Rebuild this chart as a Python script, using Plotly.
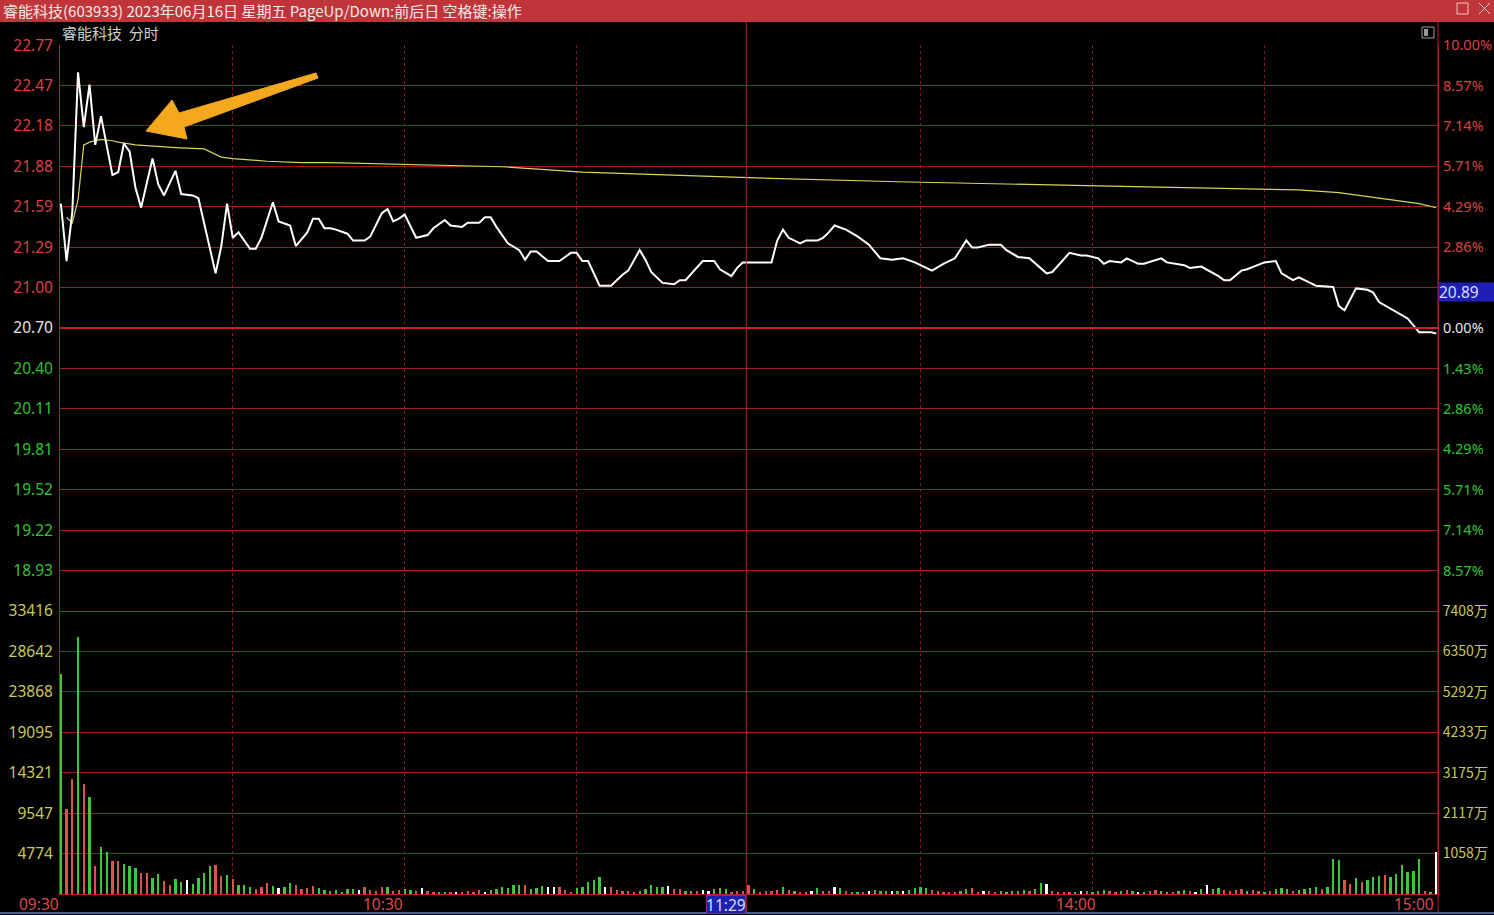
import plotly.graph_objects as go

# ---------------- data ----------------
PREV_CLOSE = 20.70
LIMIT_PCT = 0.10
VOL_MAX = 33416

PRICE_MIN = [0, 1, 2, 3, 4, 5, 6, 7, 9, 10,
             11, 12, 13, 14, 16, 17, 18, 20, 21, 23,
             24, 27, 28, 29, 30, 31, 33, 34, 35, 37,
             38, 40, 41, 43, 44, 45, 46, 47, 48, 50,
             51, 53, 54, 56, 57, 58, 59, 60, 62, 63,
             64, 65, 67, 68, 70, 71, 73, 74, 75, 76,
             78, 80, 81, 82, 83, 85, 87, 89, 90, 91,
             92, 94, 96, 98, 99, 101, 102, 103, 105, 107,
             108, 109, 112, 114, 115, 117, 118, 119, 120, 122,
             124, 125, 126, 127, 129, 130, 132, 133, 134, 135,
             137, 139, 140, 141, 143, 145, 147, 149, 152, 154,
             156, 158, 159, 160, 162, 164, 165, 167, 169, 172,
             173, 176, 178, 179, 181, 182, 183, 185, 186, 188,
             189, 192, 193, 196, 197, 199, 202, 203, 204, 206,
             207, 210, 212, 213, 215, 216, 218, 219, 222, 223,
             224, 226, 228, 229, 230, 232, 233, 235, 237, 239,
             240]
PRICE = [21.61, 21.19, 21.55, 22.57, 22.17, 22.48, 22.04, 22.25, 21.82, 21.84,
         22.05, 21.99, 21.73, 21.58, 21.94, 21.75, 21.67, 21.85, 21.68, 21.67,
         21.65, 21.10, 21.30, 21.61, 21.36, 21.40, 21.28, 21.28, 21.36, 21.62,
         21.48, 21.45, 21.30, 21.40, 21.50, 21.50, 21.43, 21.43, 21.42, 21.39,
         21.34, 21.34, 21.37, 21.54, 21.57, 21.48, 21.50, 21.53, 21.36, 21.37,
         21.38, 21.43, 21.49, 21.45, 21.44, 21.47, 21.47, 21.51, 21.51, 21.44,
         21.32, 21.27, 21.20, 21.26, 21.26, 21.19, 21.19, 21.25, 21.25, 21.19,
         21.19, 21.01, 21.01, 21.09, 21.12, 21.27, 21.20, 21.11, 21.03, 21.02,
         21.05, 21.05, 21.19, 21.19, 21.13, 21.08, 21.14, 21.18, 21.18, 21.18,
         21.18, 21.34, 21.42, 21.36, 21.32, 21.34, 21.34, 21.36, 21.40, 21.45,
         21.42, 21.37, 21.34, 21.31, 21.21, 21.20, 21.21, 21.18, 21.12, 21.17,
         21.21, 21.34, 21.29, 21.29, 21.31, 21.31, 21.27, 21.22, 21.21, 21.10,
         21.11, 21.25, 21.23, 21.23, 21.21, 21.17, 21.19, 21.18, 21.21, 21.17,
         21.17, 21.21, 21.18, 21.16, 21.14, 21.15, 21.08, 21.05, 21.05, 21.12,
         21.13, 21.18, 21.19, 21.10, 21.05, 21.07, 21.03, 21.01, 21.00, 20.86,
         20.83, 20.99, 20.98, 20.96, 20.89, 20.84, 20.82, 20.77, 20.67, 20.67,
         20.66]

AVG_MIN = [1, 2, 3, 4, 5, 7, 9, 10, 13, 16,
           20, 25, 26, 28, 30, 36, 42, 47, 77, 91,
           120, 146, 181, 216, 223, 230, 237, 240]
AVG = [21.51, 21.47, 21.64, 22.04, 22.06, 22.08, 22.07, 22.06, 22.04, 22.03,
       22.02, 22.01, 21.99, 21.95, 21.94, 21.92, 21.91, 21.91, 21.88, 21.84,
       21.80, 21.77, 21.74, 21.71, 21.69, 21.65, 21.61, 21.58]

VOLUME = [25980, 10000, 13540, 30380, 12990, 11490, 3300, 5590, 5000, 3930,
          3930, 3540, 3300, 3030, 2440, 2440, 1850, 2360, 1570, 1060,
          1730, 1450, 1650, 1140, 1850, 2520, 3340, 3460, 2120, 2240,
          1730, 1060, 1060, 790, 550, 860, 1260, 940, 670, 860,
          1340, 1060, 550, 670, 940, 670, 470, 350, 470, 270,
          630, 550, 470, 860, 470, 350, 790, 790, 390, 470,
          550, 470, 354, 668, 354, 197, 197, 275, 197, 275,
          275, 393, 197, 472, 275, 472, 550, 786, 668, 1061,
          1061, 1061, 550, 668, 943, 786, 865, 786, 472, 275,
          668, 865, 1454, 1651, 2044, 786, 786, 472, 393, 393,
          275, 393, 550, 1061, 786, 865, 943, 550, 550, 393,
          393, 393, 472, 393, 550, 668, 550, 275, 393, 393,
          1061, 550, 275, 393, 393, 472, 786, 472, 393, 275,
          275, 393, 668, 393, 393, 865, 668, 393, 275, 275,
          275, 393, 472, 393, 393, 393, 393, 393, 472, 668,
          786, 668, 472, 393, 275, 275, 275, 393, 550, 668,
          275, 393, 393, 275, 393, 275, 393, 393, 472, 393,
          550, 1336, 1179, 393, 275, 275, 197, 275, 393, 393,
          275, 393, 472, 393, 275, 393, 472, 393, 275, 275,
          393, 472, 393, 275, 275, 393, 472, 393, 275, 550,
          1100, 550, 668, 472, 393, 472, 550, 393, 472, 393,
          275, 393, 550, 668, 550, 393, 472, 550, 668, 786,
          550, 786, 4130, 4010, 1650, 1180, 1890, 1420, 1650, 2000,
          2120, 2240, 2000, 2360, 3420, 2630, 2710, 4090, 300, 200,
          4920]
# r = up minute, g = down minute, w = unchanged
VOL_SIDE = ("grrgrgrggr" "rgggrrggrr" "ggwggggrrg" "rgggrrrgwg" "grrrrggggg"
            "ggwrrrrgrr" "ggrwrrggrw" "rrrrwggggg" "grgggwwrrr" "gggggwrrrr"
            "rgggggwrrg" "grwwgggrrr" "rgrrrrgrgr" "rwgrrwgrgg" "rwgggwgwgg"
            "ggrrrrrggr" "rwrrgggggr" "ggwrrrrgwr" "gggrrgrgwg" "rrggrggrwg"
            "wggrrrrgrr" "grgggrgggg" "rgggrrgrgg" "grggggggrg" "w")

PRICE_LABELS = ["22.77", "22.47", "22.18", "21.88", "21.59", "21.29", "21.00",
                "20.70", "20.40", "20.11", "19.81", "19.52", "19.22", "18.93"]
PCT_LABELS = ["10.00%", "8.57%", "7.14%", "5.71%", "4.29%", "2.86%", "1.43%",
              "0.00%", "1.43%", "2.86%", "4.29%", "5.71%", "7.14%", "8.57%"]
VOL_LABELS = ["33416", "28642", "23868", "19095", "14321", "9547", "4774"]
AMOUNT_LABELS = ["7408万", "6350万", "5292万", "4233万", "3175万", "2117万", "1058万"]
TIME_LABELS = ["09:30", "10:30", "14:00", "15:00"]
TIME_POS = [0, 60, 180, 240]
GRID_MIN = [30, 60, 90, 150, 180, 210]
CURSOR_TIME = "11:29"
CURSOR_POS = 119.6
CURSOR_PRICE = "20.89"
CURSOR_PRICE_VAL = 20.89

TITLE = "睿能科技(603933) 2023年06月16日 星期五 PageUp/Down:前后日 空格键:操作"
SUBTITLE = "睿能科技\u00a0\u00a0分时"

assert len(PRICE_MIN) == len(PRICE)
assert len(AVG_MIN) == len(AVG)
assert len(VOLUME) == 241 and len(VOL_SIDE) == 241

# ---------------- style ----------------
W, H = 1494, 915
ML, MR, MT, MB = 60, 56, 45, 21
PW, PH = W - ML - MR, H - MT - MB

RED_T = "#dc4044"
GREEN_T = "#33c233"
WHITE_T = "#e6e6e6"
YEL_T = "#c9c95a"
GRID = "#9a1d24"
GRID_HI = "#c8232b"
FRAME = "#b0222a"
DOT = "#8a1a1f"
NUM_FONT = "Noto Sans, Liberation Sans, sans-serif"
CJK_FONT = "Noto Sans CJK SC, Noto Sans, sans-serif"
BAR_COL = {"r": "#e05050", "g": "#3cc83c", "w": "#ffffff"}
TICK_SIZE = 15.5
RTICK_SIZE = 14.5


def px2paper(px, py):
    return (px - ML) / PW, (H - MB - py) / PH


step = PREV_CLOSE * LIMIT_PCT / 7
price_vals = [PREV_CLOSE + step * k for k in range(7, -7, -1)]
p_lo = PREV_CLOSE - 7 * step
p_hi = PREV_CLOSE + 7 * step


def colored(labels, vals):
    out = []
    for t, v in zip(labels, vals):
        if abs(v - PREV_CLOSE) < 1e-9:
            c = WHITE_T
        elif v > PREV_CLOSE:
            c = RED_T
        else:
            c = GREEN_T
        out.append(f"<span style='color:{c}'>{t}</span>")
    return out


vstep = VOL_MAX / 7
vol_vals = [vstep * k for k in range(7, 0, -1)]

fig = go.Figure()
fig.add_trace(go.Bar(x=list(range(241)), y=VOLUME, xaxis="x", yaxis="y2",
                     width=0.4, marker=dict(color=[BAR_COL[s] for s in VOL_SIDE], line_width=0),
                     hoverinfo="skip"))
fig.add_trace(go.Scatter(x=AVG_MIN, y=AVG, mode="lines", xaxis="x", yaxis="y",
                         line=dict(color="#d6d65a", width=1.2), hoverinfo="skip"))
fig.add_trace(go.Scatter(x=PRICE_MIN, y=PRICE, mode="lines", xaxis="x", yaxis="y",
                         line=dict(color="#ffffff", width=2), hoverinfo="skip"))
# carriers for the right-hand axes
fig.add_trace(go.Scatter(x=[0], y=[PREV_CLOSE], xaxis="x", yaxis="y3", mode="markers",
                         marker=dict(opacity=0), hoverinfo="skip"))
fig.add_trace(go.Scatter(x=[0], y=[0], xaxis="x", yaxis="y4", mode="markers",
                         marker=dict(opacity=0), hoverinfo="skip"))

axis_common = dict(zeroline=False, ticks="", fixedrange=True, automargin=False)

fig.update_layout(
    width=W, height=H,
    margin=dict(l=ML, r=MR, t=MT, b=MB, pad=0, autoexpand=False),
    paper_bgcolor="#000000", plot_bgcolor="#000000",
    showlegend=False, bargap=0,
    font=dict(family=NUM_FONT, size=14, color=WHITE_T),
    xaxis=dict(domain=[0, 1], range=[-0.15, 240.3], tickvals=GRID_MIN, showticklabels=False,
               showgrid=True, gridcolor=DOT, griddash="dot", gridwidth=1,
               zeroline=False, showline=True, linecolor=FRAME, linewidth=1,
               anchor="y2", fixedrange=True, automargin=False),
    yaxis=dict(domain=[1 / 3, 1], range=[p_lo, p_hi + 0.0005], tickvals=price_vals,
               ticktext=colored(PRICE_LABELS, price_vals), showgrid=True, gridcolor=GRID,
               gridwidth=1, showline=True, linecolor=FRAME, anchor="x", ticklabelstandoff=3,
               tickfont=dict(size=TICK_SIZE, family=NUM_FONT), **axis_common),
    yaxis3=dict(overlaying="y", side="right", range=[p_lo, p_hi + 0.0005], tickvals=price_vals,
                ticktext=colored(PCT_LABELS, price_vals), showgrid=False, showline=True,
                linecolor=FRAME, anchor="x", ticklabelstandoff=1,
                tickfont=dict(size=RTICK_SIZE, family=NUM_FONT), **axis_common),
    yaxis2=dict(domain=[0, 1 / 3], range=[0, VOL_MAX], tickvals=vol_vals, ticktext=VOL_LABELS,
                showgrid=True, gridcolor=GRID, gridwidth=1, showline=True, linecolor=FRAME,
                anchor="x", ticklabelstandoff=3,
                tickfont=dict(size=TICK_SIZE, family=NUM_FONT, color=YEL_T), **axis_common),
    yaxis4=dict(overlaying="y2", side="right", range=[0, VOL_MAX], tickvals=vol_vals,
                ticktext=AMOUNT_LABELS, showgrid=False, showline=True, linecolor=FRAME,
                anchor="x", ticklabelstandoff=1,
                tickfont=dict(size=RTICK_SIZE - 0.5, family=CJK_FONT, color=YEL_T),
                **axis_common),
)

shapes = []
# title bar
x0, y0 = px2paper(0, 0)
x1, y1 = px2paper(W, 22)
shapes.append(dict(type="rect", xref="paper", yref="paper", x0=x0, x1=x1, y0=y1, y1=y0,
                   fillcolor="#bf3539", line_width=0, layer="below"))
# window buttons
bx0, by0 = px2paper(1457, 3)
bx1, by1 = px2paper(1468, 14)
shapes.append(dict(type="rect", xref="paper", yref="paper", x0=bx0, x1=bx1, y0=by1, y1=by0,
                   line=dict(color="#f3c4c4", width=1)))
for (a, b, c, d) in [(1479, 3, 1490, 14), (1479, 14, 1490, 3)]:
    ax_, ay_ = px2paper(a, b)
    cx_, cy_ = px2paper(c, d)
    shapes.append(dict(type="line", xref="paper", yref="paper", x0=ax_, y0=ay_, x1=cx_, y1=cy_,
                       line=dict(color="#f3c4c4", width=1)))
# small panel icon
ix0, iy0 = px2paper(1422, 27)
ix1, iy1 = px2paper(1434, 38)
shapes.append(dict(type="rect", xref="paper", yref="paper", x0=ix0, x1=ix1, y0=iy1, y1=iy0,
                   line=dict(color="#9a9a9a", width=1)))
jx0, jy0 = px2paper(1424, 29)
jx1, jy1 = px2paper(1428, 36)
shapes.append(dict(type="rect", xref="paper", yref="paper", x0=jx0, x1=jx1, y0=jy1, y1=jy0,
                   fillcolor="#9a9a9a", line_width=0))
# highlighted lines: previous close and volume panel top
shapes.append(dict(type="line", xref="paper", yref="y", x0=0, x1=1, y0=PREV_CLOSE, y1=PREV_CLOSE,
                   line=dict(color=GRID_HI, width=2)))
shapes.append(dict(type="line", xref="paper", yref="y2", x0=0, x1=1, y0=VOL_MAX, y1=VOL_MAX,
                   line=dict(color=GRID_HI, width=2)))
# midday / cursor line
_, top_p = px2paper(0, 22)
_, bot_p = px2paper(0, 912)
shapes.append(dict(type="line", xref="x", yref="paper", x0=CURSOR_POS, x1=CURSOR_POS,
                   y0=bot_p, y1=top_p, line=dict(color="#b0202a", width=1)))
# right frame line
shapes.append(dict(type="line", xref="paper", yref="paper", x0=1, x1=1, y0=bot_p, y1=top_p,
                   line=dict(color=FRAME, width=1)))
# status strip at bottom
sx0, sy0 = px2paper(0, 913)
sx1, _ = px2paper(W, 913)
shapes.append(dict(type="line", xref="paper", yref="paper", x0=sx0, x1=sx1, y0=sy0, y1=sy0,
                   line=dict(color="#3f5f8f", width=2)))
# orange arrow
arrow_px = [(316, 73), (318, 78), (184, 127), (187, 139), (146, 131), (172, 100), (179, 113)]
pts = [px2paper(a, b) for a, b in arrow_px]
path = "M " + " L ".join(f"{a:.5f},{b:.5f}" for a, b in pts) + " Z"
shapes.append(dict(type="path", xref="paper", yref="paper", path=path,
                   fillcolor="#f4a81e", line=dict(color="#f4a81e", width=1)))

fig.update_layout(shapes=shapes)

ann = []
tx, ty = px2paper(1, 11)
ann.append(dict(text=TITLE, xref="paper", yref="paper", x=tx, y=ty, xanchor="left",
                yanchor="middle", showarrow=False,
                font=dict(family=CJK_FONT, size=15, color="#f7e8e8")))
sx, sy = px2paper(60, 33)
ann.append(dict(text=SUBTITLE, xref="paper", yref="paper", x=sx, y=sy, xanchor="left",
                yanchor="middle", showarrow=False,
                font=dict(family=CJK_FONT, size=15, color="#cfcfcf")))
_, ly = px2paper(0, 904)
for lab, pos in zip(TIME_LABELS, TIME_POS):
    ann.append(dict(text=lab, xref="x", yref="paper", x=pos, y=ly, xanchor="right",
                    yanchor="middle", showarrow=False, xshift=(6 if pos == 180 else 0),
                    font=dict(family=NUM_FONT, size=TICK_SIZE, color="#d84a50")))
ann.append(dict(text=CURSOR_TIME, xref="x", yref="paper", x=CURSOR_POS, y=ly, xanchor="right",
                yanchor="middle", showarrow=False, bgcolor="#1f1fb0", bordercolor="#8a2a6a",
                borderwidth=1, borderpad=0, width=38, height=17,
                font=dict(family=NUM_FONT, size=TICK_SIZE, color="#d6deff")))
ann.append(dict(text=CURSOR_PRICE, xref="paper", yref="y3", x=1, y=CURSOR_PRICE_VAL,
                xanchor="left", yanchor="bottom", showarrow=False, bgcolor="#1f1fb8",
                borderpad=0, width=56, height=18, align="left",
                font=dict(family=NUM_FONT, size=TICK_SIZE, color="#d6deff")))
fig.update_layout(annotations=ann)

fig.write_html("out.html", config={"displayModeBar": False},
               post_script="document.body.style.margin='0';document.body.style.overflow='hidden';")
